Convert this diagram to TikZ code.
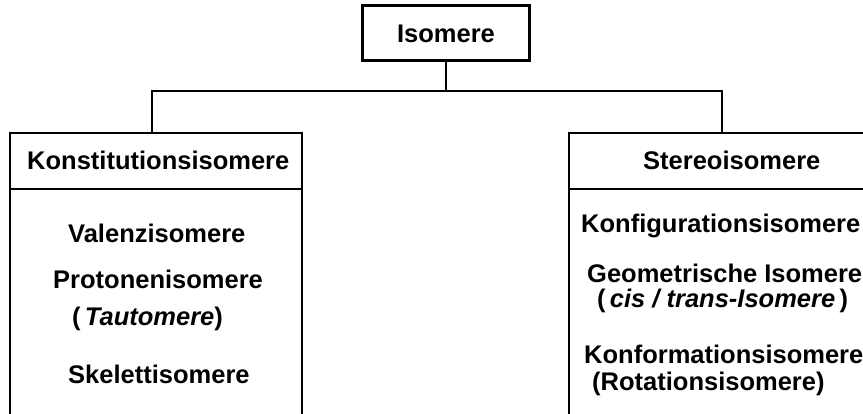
\documentclass[tikz,border=0pt]{standalone}
\usepackage{fontspec}
\setmainfont{Liberation Sans}
\begin{document}
\begin{tikzpicture}[x=1pt,y=-1pt,
  lbl/.style={font=\bfseries\fontsize{25.5}{30}\selectfont, inner sep=0pt, anchor=base west},
  conn/.style={line width=1.4pt},
  boxline/.style={line width=1.4pt}]
\useasboundingbox (0,0) rectangle (863,414);
\clip (0,0) rectangle (863,414);
% top node
\node[draw, line width=3pt, minimum width=167pt, minimum height=55pt, inner sep=0pt,
  font=\bfseries\fontsize{25.5}{30}\selectfont] (iso) at (446,33.5) {Isomere};
% boxes
\draw[boxline] (10,430) |- (302,133) -- (302,430);
\draw[boxline] (10,189) -- (302,189);
\draw[boxline] (569,430) |- (880,133);
\draw[boxline] (569,189) -- (880,189);
\coordinate (lt) at (152,133);
\coordinate (rt) at (722,133);
\coordinate (bar) at (446,91);
\draw[conn] (iso.south) -- (bar);
\draw[conn] (lt) |- (bar) -| (rt);
% left texts
\node[lbl] (konst) at (27,170) {Konstitutionsisomere};
\node[lbl] (val) at (68,243) {Valenzisomere};
\node[lbl] (prot) at (53,289) {Protonenisomere};
\node[lbl] (taut) at (72,326) {(\,\textit{Tautomere})};
\node[lbl] (skel) at (68,383) {Skelettisomere};
% right texts
\node[lbl] (stereo) at (643,170) {Stereoisomere};
\node[lbl] (konf) at (581,233) {Konfigurationsisomere};
\node[lbl] (geo) at (587,283) {Geometrische Isomere};
\node[lbl] (cis) at (597,308) {(\,\textit{cis / trans-Isomere}\,)};
\node[lbl] (konform) at (584,363) {Konformationsisomere};
\node[lbl] (rot) at (592,390) {(Rotationsisomere)};
\end{tikzpicture}
\end{document}
